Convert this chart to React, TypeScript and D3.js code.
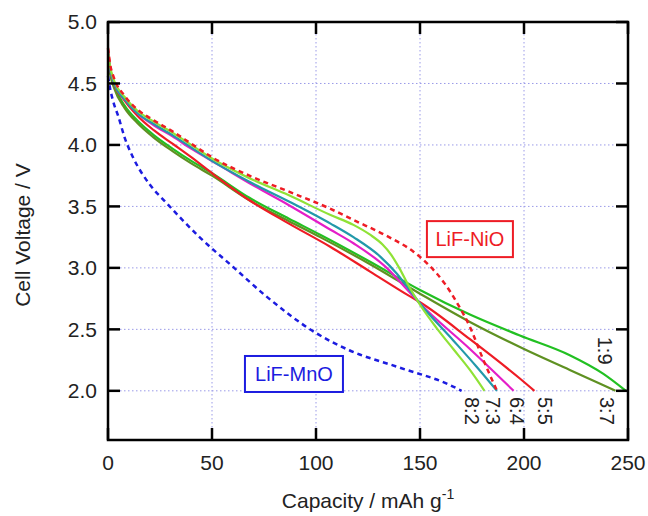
import React from 'react';
import * as d3 from 'd3';

const xTicks = [0, 50, 100, 150, 200, 250];
const yTicks = [2.0, 2.5, 3.0, 3.5, 4.0, 4.5, 5.0];
const xGrid = [50, 100, 150, 200];
const yGrid = [2.0, 2.5, 3.0, 3.5, 4.0, 4.5];

// LiF-NiO (dashed red)
const capNiO = [0, 1, 3, 8, 14, 22, 31, 40, 50, 68, 87, 107, 118, 134, 147, 155, 162, 168, 174, 180, 187];
const vNiO = [4.79, 4.66, 4.54, 4.40, 4.29, 4.20, 4.11, 4.01, 3.90, 3.75, 3.62, 3.48, 3.39, 3.26, 3.13, 3.01, 2.87, 2.71, 2.52, 2.27, 2.0];
// LiF-MnO (dashed blue)
const capMnO = [0, 1, 2.4, 5, 8, 12, 20, 28, 44, 60, 76, 100, 116, 140, 164, 170];
const vMnO = [4.56, 4.46, 4.36, 4.23, 4.06, 3.90, 3.68, 3.53, 3.25, 3.01, 2.77, 2.47, 2.33, 2.19, 2.05, 2.0];
// 8:2
const cap82 = [0, 1, 3, 8, 14, 22, 31, 40, 50, 68, 87, 107, 118, 126, 132, 136, 140, 145, 150, 158, 166, 174, 181];
const v82 = [4.76, 4.64, 4.52, 4.39, 4.28, 4.19, 4.10, 4.00, 3.89, 3.73, 3.59, 3.43, 3.35, 3.27, 3.19, 3.11, 3.00, 2.84, 2.70, 2.51, 2.34, 2.17, 2.0];
// 7:3
const cap73 = [0, 1, 3, 8, 14, 22, 31, 40, 50, 68, 87, 107, 118, 131, 139, 145, 150, 166, 177, 187];
const v73 = [4.74, 4.62, 4.50, 4.37, 4.26, 4.17, 4.08, 3.98, 3.87, 3.70, 3.54, 3.36, 3.25, 3.09, 2.95, 2.82, 2.71, 2.41, 2.20, 2.0];
// 6:4
const cap64 = [0, 1, 3, 8, 14, 22, 31, 40, 54, 70, 87, 107, 118, 134, 144, 150, 174, 195];
const v64 = [4.77, 4.62, 4.50, 4.37, 4.26, 4.16, 4.07, 3.97, 3.83, 3.67, 3.51, 3.31, 3.20, 3.00, 2.82, 2.71, 2.34, 2.0];
// 5:5
const cap55 = [0, 1, 3, 8, 14, 22, 31, 40, 50, 68, 87, 107, 126, 145, 150, 174, 198, 205];
const v55 = [4.78, 4.63, 4.50, 4.36, 4.24, 4.12, 4.01, 3.90, 3.77, 3.55, 3.36, 3.17, 2.97, 2.77, 2.72, 2.42, 2.10, 2.0];
// 3:7
const cap37 = [0, 1, 3, 8, 14, 22, 31, 40, 50, 68, 87, 102, 126, 150, 174, 200, 222, 244];
const v37 = [4.71, 4.58, 4.46, 4.30, 4.18, 4.06, 3.95, 3.85, 3.75, 3.55, 3.38, 3.25, 3.03, 2.79, 2.56, 2.34, 2.17, 2.0];
// 1:9
const cap19 = [0, 1, 3, 8, 14, 22, 31, 40, 50, 68, 87, 102, 126, 150, 174, 198, 222, 238, 249];
const v19 = [4.72, 4.60, 4.48, 4.32, 4.20, 4.08, 3.97, 3.87, 3.77, 3.57, 3.40, 3.27, 3.05, 2.82, 2.62, 2.45, 2.29, 2.14, 2.0];

const W = 648, H = 516;
const L = 108, R = 628, T = 22, B = 440;
const x = d3.scaleLinear().domain([0, 250]).range([L, R]);
const y = d3.scaleLinear().domain([1.6, 5.0]).range([B, T]);

const solid = [
  { name: '1:9', cap: cap19, v: v19, color: '#22c022' },
  { name: '3:7', cap: cap37, v: v37, color: '#5f9122' },
  { name: '5:5', cap: cap55, v: v55, color: '#ee1c25' },
  { name: '6:4', cap: cap64, v: v64, color: '#e41ec8' },
  { name: '7:3', cap: cap73, v: v73, color: '#2299aa' },
  { name: '8:2', cap: cap82, v: v82, color: '#8fe236' },
];
const dashed = [
  { name: 'LiF-MnO', cap: capMnO, v: vMnO, color: '#1c1ce0' },
  { name: 'LiF-NiO', cap: capNiO, v: vNiO, color: '#ee1c25' },
];

const endLabels = [
  { text: '8:2', cap: 175, v: 1.95 },
  { text: '7:3', cap: 185, v: 1.95 },
  { text: '6:4', cap: 196.5, v: 1.95 },
  { text: '5:5', cap: 210, v: 1.95 },
  { text: '3:7', cap: 240, v: 1.95 },
  { text: '1:9', cap: 239, v: 2.44 },
];
const boxes = [
  { text: 'LiF-NiO', cap: 174, v: 3.234, w: 86, color: '#ee1c25' },
  { text: 'LiF-MnO', cap: 89.4, v: 2.137, w: 98, color: '#1c1ce0' },
];

const line = (cap: number[], v: number[]) =>
  d3.line<number>().x((_, i) => x(cap[i])).y((d) => y(d)).curve(d3.curveMonotoneX)(v) || '';

const font = 'Liberation Sans, Arial, sans-serif';

export default function App() {
  const tickLen = 12;
  return (
    <svg width={W} height={H} style={{ position: 'absolute', left: 0, top: 0, background: '#fff' }} fontFamily={font}>
      {xGrid.map((t) => (
        <line key={'gx' + t} x1={x(t)} x2={x(t)} y1={T} y2={B} stroke="#9a9ae8" strokeWidth={1} strokeDasharray="1.5 2.5" />
      ))}
      {yGrid.map((t) => (
        <line key={'gy' + t} x1={L} x2={R} y1={y(t)} y2={y(t)} stroke="#9a9ae8" strokeWidth={1} strokeDasharray="1.5 2.5" />
      ))}
      {solid.map((s) => (
        <path key={s.name} d={line(s.cap, s.v)} fill="none" stroke={s.color} strokeWidth={2.2} />
      ))}
      {dashed.map((s) => (
        <path key={s.name} d={line(s.cap, s.v)} fill="none" stroke={s.color} strokeWidth={2.5} strokeDasharray="5 4" />
      ))}
      {xTicks.map((t) => (
        <g key={'tx' + t}>
          <line x1={x(t)} x2={x(t)} y1={B} y2={B - tickLen} stroke="#000" strokeWidth={2.5} />
          <line x1={x(t)} x2={x(t)} y1={T} y2={T + tickLen} stroke="#000" strokeWidth={2.5} />
          <text x={x(t)} y={470} textAnchor="middle" fontSize={21} fill="#222">{t}</text>
        </g>
      ))}
      {yTicks.map((t) => (
        <g key={'ty' + t}>
          <line x1={L} x2={L + tickLen} y1={y(t)} y2={y(t)} stroke="#000" strokeWidth={2.5} />
          <line x1={R} x2={R - tickLen} y1={y(t)} y2={y(t)} stroke="#000" strokeWidth={2.5} />
          <text x={97} y={y(t)} dy="0.35em" textAnchor="end" fontSize={21} fill="#222">{t.toFixed(1)}</text>
        </g>
      ))}
      <rect x={L} y={T} width={R - L} height={B - T} fill="none" stroke="#000" strokeWidth={2.5} />
      {endLabels.map((l) => (
        <text key={l.text} transform={`translate(${x(l.cap)},${y(l.v)}) rotate(90)`} dy="0.35em" fontSize={20} fill="#222">{l.text}</text>
      ))}
      {boxes.map((b) => (
        <g key={b.text}>
          <rect x={x(b.cap) - b.w / 2} y={y(b.v) - 18} width={b.w} height={36} fill="#fff" stroke={b.color} strokeWidth={2} />
          <text x={x(b.cap)} y={y(b.v)} dy="0.35em" textAnchor="middle" fontSize={20} fill={b.color}>{b.text}</text>
        </g>
      ))}
      <text x={(L + R) / 2} y={508} textAnchor="middle" fontSize={21} fill="#222">
        Capacity / mAh g<tspan dy={-9} fontSize={14}>-1</tspan>
      </text>
      <text transform={`translate(30,${235}) rotate(-90)`} textAnchor="middle" fontSize={21} fill="#222">Cell Voltage / V</text>
    </svg>
  );
}
